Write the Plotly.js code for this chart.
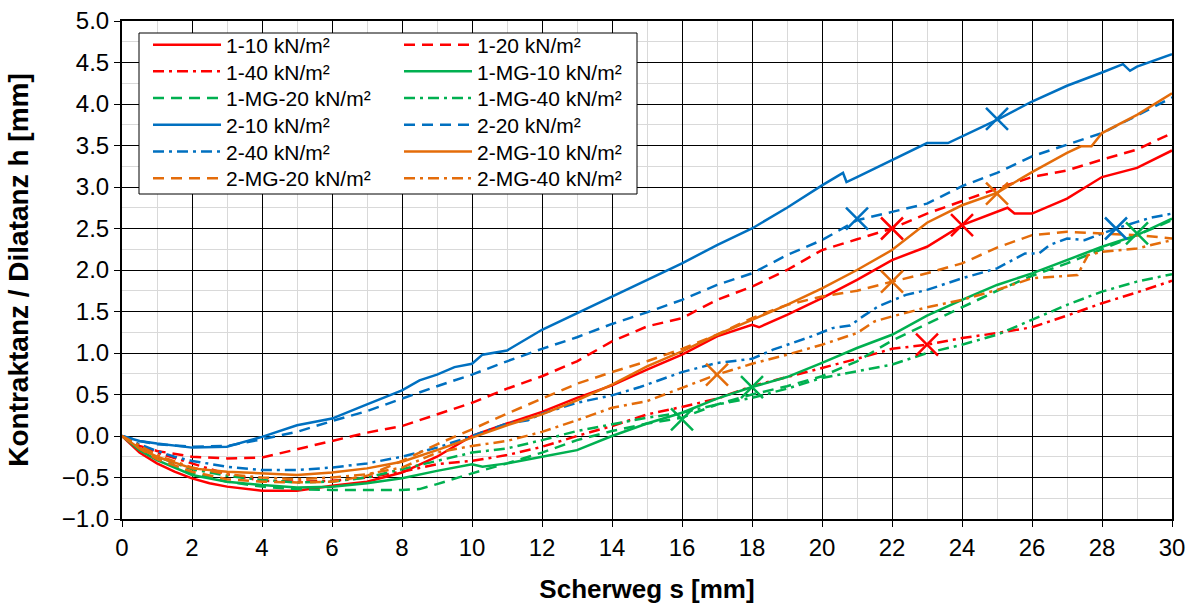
<!DOCTYPE html>
<html>
<head>
<meta charset="utf-8">
<script src="https://cdn.plot.ly/plotly-3.0.1.min.js"></script>
<style>
  html, body { margin: 0; padding: 0; background: #fff; }
  #chart { width: 1194px; height: 605px; }
</style>
</head>
<body>
<div id="chart"></div>
<script>
// Shear path s [mm] and contraction / dilatancy h [mm] per test
const s_1_10 = [0,0.5,1,1.5,2,2.5,3,4,5,6,7,8,9,10,11,12,13,14,15,16,17,18,18.2,19,20,21,22,23,24,25,25.3,25.5,26,27,28,29,30];
const h_1_10 = [0,-0.2,-0.33,-0.43,-0.51,-0.57,-0.61,-0.66,-0.66,-0.6,-0.55,-0.44,-0.25,0.0,0.15,0.29,0.46,0.61,0.8,0.98,1.2,1.34,1.31,1.46,1.66,1.88,2.12,2.28,2.54,2.70,2.75,2.68,2.68,2.86,3.12,3.23,3.44];

const s_1_20 = [0,0.5,1,2,3,4,5,6,7,8,9,10,11,12,13,14,15,16,17,18,19,20,21,22,23,24,25,26,27,28,29,30];
const h_1_20 = [0,-0.12,-0.18,-0.25,-0.27,-0.26,-0.16,-0.06,0.04,0.12,0.26,0.4,0.57,0.72,0.9,1.14,1.32,1.42,1.64,1.8,2.0,2.24,2.37,2.5,2.68,2.83,2.98,3.12,3.2,3.33,3.45,3.65];

const s_1_40 = [0,0.5,1,2,3,4,5,6,7,8,9,10,11,12,13,14,15,16,17,18,19,20,21,22,23,24,25,26,27,28,29,30];
const h_1_40 = [0,-0.12,-0.2,-0.33,-0.46,-0.54,-0.55,-0.54,-0.5,-0.43,-0.34,-0.3,-0.23,-0.13,0.0,0.12,0.26,0.35,0.45,0.6,0.71,0.82,0.93,1.05,1.1,1.18,1.24,1.31,1.45,1.6,1.73,1.87];

const s_1MG_10 = [0,0.5,1,2,3,4,5,6,7,8,9,10,10.3,11,12,13,14,15,16,17,18,19,20,21,22,23,24,25,26,27,28,29,30];
const h_1MG_10 = [0,-0.17,-0.29,-0.47,-0.55,-0.59,-0.62,-0.61,-0.57,-0.51,-0.42,-0.34,-0.37,-0.33,-0.25,-0.17,0.0,0.15,0.28,0.45,0.59,0.71,0.88,1.06,1.22,1.45,1.64,1.82,1.96,2.12,2.28,2.42,2.62];

const s_1MG_20 = [0,0.5,1,2,3,4,5,6,7,8,8.5,9,10,11,12,13,14,15,16,17,18,19,20,21,22,23,24,25,26,27,28,29,30];
const h_1MG_20 = [0,-0.15,-0.27,-0.45,-0.55,-0.61,-0.64,-0.65,-0.65,-0.65,-0.64,-0.58,-0.45,-0.33,-0.2,-0.05,0.06,0.15,0.22,0.38,0.5,0.6,0.72,0.9,1.15,1.35,1.55,1.75,1.93,2.08,2.25,2.42,2.6];

const s_1MG_40 = [0,0.5,1,2,3,4,5,6,7,8,9,10,11,12,13,14,15,16,17,18,19,20,21,22,23,24,25,26,27,28,29,30];
const h_1MG_40 = [0,-0.14,-0.25,-0.4,-0.48,-0.53,-0.56,-0.55,-0.5,-0.4,-0.3,-0.2,-0.15,-0.05,0.06,0.14,0.22,0.28,0.38,0.46,0.57,0.7,0.78,0.86,1.0,1.1,1.22,1.4,1.58,1.74,1.86,1.95];

const s_2_10 = [0,0.5,1,2,3,4,5,6,7,8,8.5,9,9.5,10,10.3,11,12,13,14,15,16,17,18,19,20,20.6,20.7,21,22,23,23.6,24,25,26,27,28,28.6,28.8,29,30];
const h_2_10 = [0,-0.06,-0.09,-0.14,-0.13,-0.01,0.13,0.21,0.38,0.55,0.67,0.74,0.83,0.87,0.98,1.03,1.28,1.48,1.68,1.88,2.08,2.3,2.5,2.75,3.02,3.17,3.06,3.12,3.33,3.53,3.53,3.61,3.81,4.03,4.22,4.38,4.48,4.40,4.45,4.6];

const s_2_20 = [0,0.5,1,2,3,4,5,6,7,8,9,10,11,12,13,14,15,16,17,18,19,20,21,22,23,24,25,26,27,28,29,30];
const h_2_20 = [0,-0.06,-0.1,-0.13,-0.12,-0.04,0.05,0.18,0.3,0.45,0.6,0.74,0.9,1.05,1.19,1.35,1.49,1.64,1.82,1.96,2.18,2.36,2.6,2.7,2.8,3.01,3.17,3.37,3.51,3.65,3.86,4.08];

const s_2_40 = [0,0.5,1,1.5,2,3,4,5,6,7,8,9,10,11,11.6,12,13,14,14.8,16,17,18,18.6,19.7,20.3,20.8,21.2,21.6,22.4,23,24,25,25.8,26.2,26.5,27,27.5,28,28.4,29,29.4,30];
const h_2_40 = [0,-0.1,-0.18,-0.25,-0.3,-0.37,-0.41,-0.41,-0.38,-0.33,-0.25,-0.14,0.0,0.15,0.19,0.27,0.4,0.49,0.59,0.77,0.88,0.93,1.04,1.2,1.3,1.33,1.45,1.56,1.70,1.76,1.9,2.02,2.2,2.2,2.3,2.38,2.36,2.44,2.5,2.58,2.63,2.68];

const s_2MG_10 = [0,0.5,1,2,3,4,5,6,7,8,9,10,11,12,13,14,15,16,17,18,19,20,21,22,23,24,25,26,27,27.4,27.7,28,29,30];
const h_2MG_10 = [0,-0.15,-0.25,-0.39,-0.43,-0.45,-0.47,-0.44,-0.39,-0.31,-0.17,-0.02,0.13,0.26,0.43,0.62,0.84,1.02,1.22,1.4,1.58,1.78,2.0,2.24,2.57,2.78,2.93,3.18,3.41,3.49,3.49,3.65,3.87,4.13];

const s_2MG_20 = [0,0.5,1,2,3,4,5,6,7,8,9,10,11,12,13,14,15,16,17,18,19,20,21,22,23,24,25,26,27,28,29,30];
const h_2MG_20 = [0,-0.15,-0.28,-0.43,-0.52,-0.55,-0.56,-0.55,-0.48,-0.3,-0.1,0.08,0.27,0.45,0.63,0.77,0.9,1.05,1.22,1.42,1.58,1.68,1.75,1.86,1.96,2.08,2.27,2.42,2.46,2.44,2.42,2.38];

const s_2MG_40 = [0,0.5,1,2,3,4,5,6,7,8,9,10,11,12,13,14,15,16,17,18,19,20,21,21.5,22,23,24,25,26,27,27.3,27.6,28,29,30];
const h_2MG_40 = [0,-0.12,-0.23,-0.38,-0.46,-0.5,-0.52,-0.5,-0.46,-0.38,-0.2,-0.12,-0.06,0.05,0.19,0.34,0.42,0.58,0.74,0.87,0.98,1.1,1.24,1.38,1.44,1.55,1.64,1.76,1.9,1.93,1.94,2.18,2.22,2.26,2.36];

// Test names, in legend order (row by row, two per row)
const names = ['1-10 kN/m²','1-20 kN/m²','1-40 kN/m²','1-MG-10 kN/m²','1-MG-20 kN/m²','1-MG-40 kN/m²',
               '2-10 kN/m²','2-20 kN/m²','2-40 kN/m²','2-MG-10 kN/m²','2-MG-20 kN/m²','2-MG-40 kN/m²'];
const sSeries = [s_1_10, s_1_20, s_1_40, s_1MG_10, s_1MG_20, s_1MG_40, s_2_10, s_2_20, s_2_40, s_2MG_10, s_2MG_20, s_2MG_40];
const hSeries = [h_1_10, h_1_20, h_1_40, h_1MG_10, h_1MG_20, h_1MG_40, h_2_10, h_2_20, h_2_40, h_2MG_10, h_2MG_20, h_2MG_40];

// Marked points (x) on each curve
const peakS = [24, 22, 23, 18, 29, 16, 25, 21, 28.4, 25, 22, 17];
const peakH = [2.54, 2.5, 1.1, 0.59, 2.44, 0.2, 3.82, 2.62, 2.5, 2.92, 1.86, 0.74];

// Styles
const RED = '#ff0000', GREEN = '#00b050', BLUE = '#0070c0', ORANGE = '#e46c0a';
const colors = [RED, RED, RED, GREEN, GREEN, GREEN, BLUE, BLUE, BLUE, ORANGE, ORANGE, ORANGE];
const DASHED = '11px,7px', DASHDOT = '11px,5px,3px,5px';
const dashes = ['solid', DASHED, DASHDOT, 'solid', DASHED, DASHDOT, 'solid', DASHED, DASHDOT, 'solid', DASHED, DASHDOT];

const FONT = 'Liberation Sans, Arial, sans-serif';

// Plot area in pixels (used for placing legend rows)
const W = 1194, H = 605;
const M = {l: 122, r: 22, t: 21, b: 86};
const plotW = W - M.l - M.r, plotH = H - M.t - M.b;
const px2x = px => (px - M.l) / plotW;
const py2y = py => (H - M.b - py) / plotH;

const traces = [];
for (let i = 0; i < names.length; i++) {
  const row = Math.floor(i / 2);
  traces.push({
    type: 'scatter', mode: 'lines', name: names[i],
    x: sSeries[i], y: hSeries[i],
    line: {color: colors[i], width: 2.5, dash: dashes[i]},
    legend: row === 0 ? 'legend' : 'legend' + (row + 1),
    hoverinfo: 'x+y+name'
  });
}
for (let i = 0; i < names.length; i++) {
  traces.push({
    type: 'scatter', mode: 'markers', showlegend: false,
    x: [peakS[i]], y: [peakH[i]],
    marker: {symbol: 'x-thin', size: 22, color: colors[i], line: {color: colors[i], width: 2.5}},
    hoverinfo: 'skip'
  });
}

// Legend box
const LEG = {x0: 139, x1: 637, y0: 33, y1: 194};
const rowStep = 26.7, firstRow = 45;

const layout = {
  width: W, height: H,
  margin: M,
  paper_bgcolor: '#fff', plot_bgcolor: '#fff',
  font: {family: FONT, size: 24, color: '#000'},
  showlegend: true,
  xaxis: {
    range: [0, 30], dtick: 2, tick0: 0,
    showgrid: true, gridcolor: '#000', gridwidth: 1,
    minor: {dtick: 1, showgrid: true, gridcolor: '#d9d9d9', gridwidth: 1, ticks: ''},
    zeroline: false,
    showline: true, linecolor: '#000', linewidth: 2, mirror: true,
    ticks: 'outside', ticklen: 6, tickwidth: 1, tickcolor: '#000',
    tickfont: {family: FONT, size: 24, color: '#000'},
    title: {text: 'Scherweg s [mm]', font: {family: FONT, size: 26, color: '#000', weight: 'bold'}, standoff: 20},
    fixedrange: true
  },
  yaxis: {
    range: [-1, 5], dtick: 0.5, tick0: 0, tickformat: '.1f',
    showgrid: true, gridcolor: '#000', gridwidth: 1,
    minor: {dtick: 0.25, showgrid: true, gridcolor: '#d9d9d9', gridwidth: 1, ticks: ''},
    zeroline: false,
    showline: true, linecolor: '#000', linewidth: 2, mirror: true,
    ticks: 'outside', ticklen: 6, tickwidth: 1, tickcolor: '#000',
    tickfont: {family: FONT, size: 24, color: '#000'},
    title: {text: 'Kontraktanz / Dilatanz h [mm]', font: {family: FONT, size: 28, color: '#000', weight: 'bold'}, standoff: 25},
    fixedrange: true
  },
  shapes: [{
    type: 'rect', xref: 'paper', yref: 'paper', layer: 'above',
    x0: px2x(LEG.x0), x1: px2x(LEG.x1), y0: py2y(LEG.y1), y1: py2y(LEG.y0),
    fillcolor: '#fff', line: {color: '#000', width: 1}
  }]
};

// One horizontal legend per row, two entries each
for (let r = 0; r < 6; r++) {
  const key = r === 0 ? 'legend' : 'legend' + (r + 1);
  layout[key] = {
    orientation: 'h',
    x: px2x(148), xanchor: 'left',
    y: py2y(firstRow + r * rowStep), yanchor: 'middle',
    bgcolor: 'rgba(0,0,0,0)', borderwidth: 0,
    font: {family: FONT, size: 21, color: '#000'},
    itemwidth: 68, entrywidth: 168, entrywidthmode: 'pixels',
    itemclick: false, itemdoubleclick: false
  };
}

Plotly.newPlot('chart', traces, layout, {displayModeBar: false});
</script>
</body>
</html>
